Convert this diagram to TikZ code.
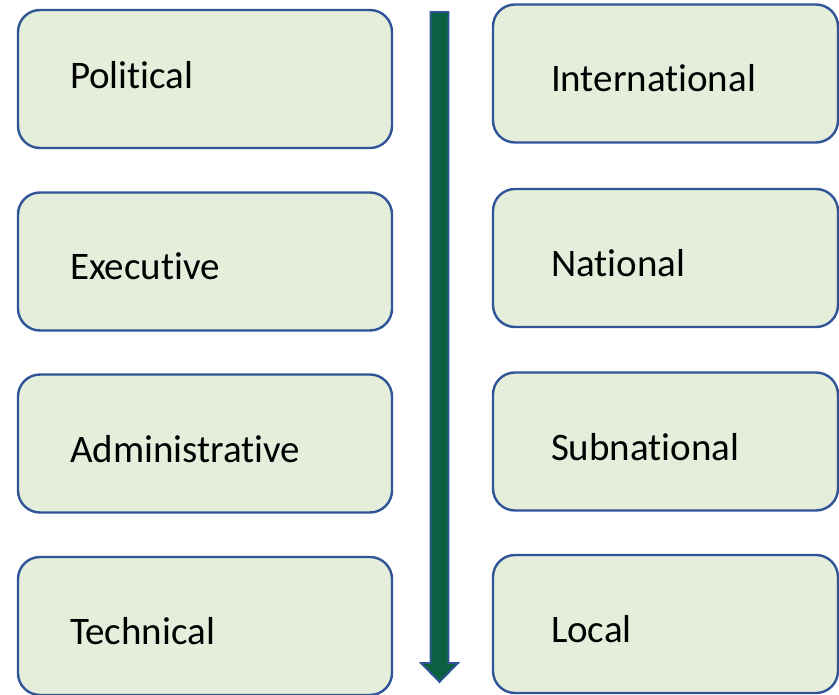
\documentclass[tikz,border=0pt]{standalone}
\usepackage{fontspec}
\setmainfont{Carlito}[Ligatures=NoCommon]
\definecolor{boxfill}{HTML}{E4EEDB}
\definecolor{boxline}{HTML}{2F5597}
\definecolor{arrfill}{HTML}{0A6040}
\begin{document}
\begin{tikzpicture}[x=1pt,y=-1pt,
	lvl/.style={draw=boxline,fill=boxfill,line width=2.4pt,rounded corners=22pt,
		minimum height=138pt,align=left,font=\fontsize{39}{44}\selectfont,
		inner ysep=0pt,text height=37pt,text depth=0pt},
	lbox/.style={lvl,text width=270pt,inner xsep=52pt},
	rbox/.style={lvl,text width=229pt,inner xsep=58pt}]
	\useasboundingbox (0,0) rectangle (839,695);
	% left column
	\node[lbox,text height=20pt] (pol) at (205,79) {Political};
	\node[lbox] (exe) at (205,261.5) {Executive};
	\node[lbox] (adm) at (205,443.5) {Administrative};
	\node[lbox] (tec) at (205,626) {Technical};
	% right column
	\node[rbox] (int) at (665.5,73.5) {International};
	\node[rbox] (nat) at (665.5,258) {National};
	\node[rbox] (sub) at (665.5,441.5) {Subnational};
	\node[rbox] (loc) at (665.5,624) {Local};
	% downward arrow between the columns
	\coordinate (atop) at (439.5,12);
	\coordinate (atip) at (439.5,682);
	\draw[boxline,fill=arrfill,line width=1.8pt,line join=miter]
		([xshift=-9pt]atop) -- ([xshift=9pt]atop) -- ([xshift=9pt,yshift=19pt]atip)
		-- ([xshift=18.5pt,yshift=19pt]atip) -- (atip) -- ([xshift=-18.5pt,yshift=19pt]atip)
		-- ([xshift=-9pt,yshift=19pt]atip) -- cycle;
\end{tikzpicture}
\end{document}
